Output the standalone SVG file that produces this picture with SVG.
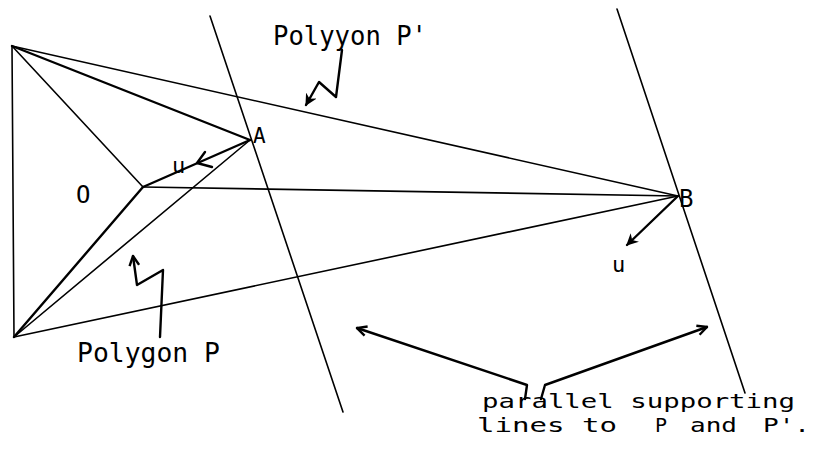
<svg xmlns="http://www.w3.org/2000/svg" width="820" height="468" viewBox="0 0 820 468">
<style>
.ln{stroke:#000;stroke-width:1.6;fill:none;stroke-linecap:round;stroke-linejoin:round}
.th{stroke:#000;stroke-width:2.4;fill:none;stroke-linecap:round;stroke-linejoin:round}
.tx{font-family:"DejaVu Sans Mono","Liberation Mono",monospace;fill:#000}
</style>
<defs>
<marker id="ah" viewBox="0 0 10 10" refX="9" refY="5" markerWidth="12" markerHeight="12" markerUnits="userSpaceOnUse" orient="auto">
<path d="M1,1 L9,5 L1,9" stroke="#000" stroke-width="2" fill="none"/>
</marker>
<marker id="ahf" viewBox="0 0 10 10" refX="9" refY="5" markerWidth="12" markerHeight="12" markerUnits="userSpaceOnUse" orient="auto">
<path d="M0,0 L10,5 L0,10 L3,5 Z" fill="#000"/>
</marker>
</defs>
<rect width="820" height="468" fill="#fff"/>
<g id="connectors">
<line class="ln" x1="12" y1="46" x2="14" y2="337"/>
<line class="th" x1="12" y1="46" x2="250" y2="140"/>
<line class="ln" x1="12" y1="46" x2="143" y2="187"/>
<line class="ln" x1="12" y1="46" x2="678" y2="196"/>
<line class="ln" x1="143" y1="187" x2="678" y2="196"/>
<line class="th" x1="250" y1="140" x2="143" y2="187"/>
<line class="th" x1="14" y1="337" x2="143" y2="187"/>
<line class="ln" x1="14" y1="337" x2="250" y2="140"/>
<line class="ln" x1="14" y1="337" x2="678" y2="196"/>
<line class="ln" x1="210" y1="16" x2="343" y2="412"/>
<line class="ln" x1="617" y1="9" x2="745" y2="393"/>
<path class="th" d="M205,152 L197,163 L212,167"/>
<line class="th" x1="678" y1="196" x2="627" y2="245" marker-end="url(#ahf)"/>
<path class="th" d="M342,50 L336,97 L319,82 L306,105" marker-end="url(#ahf)"/>
<path class="th" d="M160,337 L163,270 L137,285 L133,256" marker-end="url(#ah)"/>
<path class="th" d="M525,399 L527,385 L357,328" marker-end="url(#ah)"/>
<path class="th" d="M541,399 L545,385 L707,327" marker-end="url(#ah)"/>
</g>
<g id="node-O"><text class="tx" x="76" y="203" font-size="24">O</text></g>
<g id="node-A"><text class="tx" x="253" y="143" font-size="21">A</text></g>
<g id="node-B"><text class="tx" x="679" y="207" font-size="24">B</text></g>
<g id="label-u1"><text class="tx" x="172" y="173" font-size="22">u</text></g>
<g id="label-u2"><text class="tx" x="612" y="272" font-size="22">u</text></g>
<g id="label-Pprime"><text class="tx" x="273" y="45" font-size="26" textLength="154" lengthAdjust="spacingAndGlyphs">Polyyon P'</text></g>
<g id="label-P"><text class="tx" x="77" y="362" font-size="26" textLength="143" lengthAdjust="spacingAndGlyphs">Polygon P</text></g>
<g id="label-parallel">
<text class="tx" x="482" y="408" font-size="20" textLength="313" lengthAdjust="spacingAndGlyphs">parallel supporting</text>
<text class="tx" x="477" y="432" font-size="20" textLength="140" lengthAdjust="spacingAndGlyphs">lines to</text>
<text class="tx" x="655" y="432" font-size="20">P</text>
<text class="tx" x="690" y="432" font-size="20" textLength="47" lengthAdjust="spacingAndGlyphs">and</text>
<text class="tx" x="763" y="432" font-size="20" textLength="47" lengthAdjust="spacingAndGlyphs">P'.</text>
</g>
</svg>
